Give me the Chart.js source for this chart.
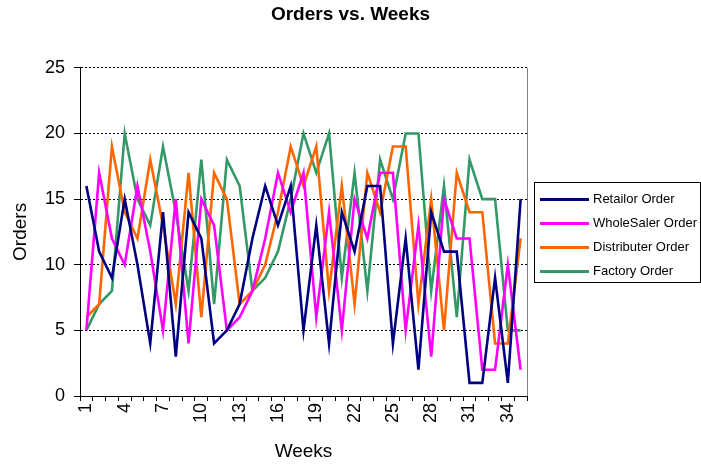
<!DOCTYPE html>
<html>
<head>
<meta charset="utf-8">
<script src="https://cdn.jsdelivr.net/npm/chart.js@4"></script>
<style>
  body { margin: 0; background: #fff; }
  #wrap { position: relative; width: 701px; height: 467px; }
  #legend {
    position: absolute; left: 534px; top: 182px; width: 165px; height: 99px;
    border: 1px solid #000; font-family: "Liberation Sans", Arial, sans-serif;
    font-size: 13px; color: #000; box-sizing: content-box;
  }
  .item { position: absolute; left: 0; height: 16px; }
  .swatch { position: absolute; left: 5px; top: 7px; width: 49px; height: 3px; }
  .label { position: absolute; left: 58px; top: 0; white-space: nowrap; line-height: 16px; }
</style>
</head>
<body>
<div id="wrap">
  <canvas id="chart" width="701" height="467"></canvas>
  <div id="legend"></div>
</div>
<script>
// weeks 1..35
const weeks = [];
for (let i = 1; i <= 35; i++) weeks.push(String(i));

const retailorOrder = [16,11,9,15,10,4,14,3,14,12,4,5,7,12,16,13,16,5,13,4,14,11,16,16,4,12,2,14,11,11,1,1,9,1,15];
const wholesalerOrder = [5,17,12,10,16,11,5,15,4,15,13,5,6,8,12,17,14,17,6,14,5,15,12,17,17,5,13,3,15,12,12,2,2,10,2];
const distributerOrder = [6,7,19,14,12,18,13,7,17,6,17,15,7,8,10,14,19,16,19,8,16,7,17,14,19,19,7,15,5,17,14,14,4,4,12];
const factoryOrder = [5,7,8,20,15,13,19,14,8,18,7,18,16,8,9,11,15,20,17,20,9,17,8,18,15,20,20,8,16,6,18,15,15,5,5];

const seriesNames = ['Retailor Order', 'WholeSaler Order', 'Distributer Order', 'Factory Order'];
const seriesColors = ['#000080', '#ff00ff', '#ff6600', '#339966'];
const yTicks = [0, 5, 10, 15, 20, 25];

const font = '"Liberation Sans", Arial, sans-serif';

// grey right edge of the plot area
const plotEdge = {
  id: 'plotEdge',
  afterDraw(chart) {
    const a = chart.chartArea, ctx = chart.ctx;
    ctx.save();
    ctx.strokeStyle = '#808080';
    ctx.lineWidth = 1;
    ctx.beginPath();
    ctx.moveTo(Math.round(a.right) + 0.5, a.top);
    ctx.lineTo(Math.round(a.right) + 0.5, a.bottom);
    ctx.stroke();
    ctx.restore();
  }
};

const allData = [retailorOrder, wholesalerOrder, distributerOrder, factoryOrder];

new Chart(document.getElementById('chart'), {
  type: 'line',
  data: {
    labels: weeks,
    datasets: allData.map((d, i) => ({
      label: seriesNames[i],
      data: d,
      borderColor: seriesColors[i],
      backgroundColor: seriesColors[i],
      borderWidth: 2.6,
      pointRadius: 0,
      tension: 0,
      fill: false
    }))
  },
  options: {
    responsive: false,
    animation: false,
    layout: { padding: 0 },
    plugins: {
      legend: { display: false },
      tooltip: { enabled: false },
      title: {
        display: true,
        text: 'Orders vs. Weeks',
        color: '#000',
        font: { family: font, size: 19, weight: 'bold' },
        padding: { top: 3, bottom: 42 }
      }
    },
    scales: {
      x: {
        type: 'category',
        offset: true,
        afterFit(scale) { scale.height = 71; },
        grid: { drawOnChartArea: false, offset: true, color: '#000', tickLength: 5, tickColor: '#000' },
        border: { color: '#000', width: 1 },
        ticks: {
          autoSkip: false,
          minRotation: 90,
          maxRotation: 90,
          padding: 2,
          color: '#000',
          font: { family: font, size: 18 },
          callback(v, i) { return i % 3 === 0 ? weeks[i] : ''; }
        },
        title: {
          display: true, text: 'Weeks', color: '#000',
          font: { family: font, size: 19 },
          padding: { top: 0, bottom: 4 }
        }
      },
      y: {
        min: 0,
        max: 25,
        afterFit(scale) { scale.width = 80; },
        afterBuildTicks(scale) { scale.ticks = yTicks.map(v => ({ value: v })); },
        grid: { color: '#000', lineWidth: 1, tickLength: 6, tickColor: '#000', tickBorderDash: [] },
        border: { color: '#000', width: 1, dash: [2, 2] },
        ticks: {
          padding: 9,
          color: '#000',
          font: { family: font, size: 18 }
        },
        title: {
          display: true, text: 'Orders', color: '#000',
          font: { family: font, size: 19 },
          padding: { top: 9, bottom: 0 }
        }
      },
      // empty box on the right that keeps room for the legend
      spacer: {
        position: 'right',
        min: 0,
        max: 25,
        afterFit(scale) { scale.width = 174; },
        grid: { display: false },
        border: { display: false },
        ticks: { display: false }
      }
    }
  },
  plugins: [plotEdge]
});

// legend box
const legend = document.getElementById('legend');
seriesNames.forEach((name, i) => {
  const item = document.createElement('div');
  item.className = 'item';
  item.style.top = (8 + i * 24) + 'px';
  item.style.width = '100%';
  item.innerHTML = '<div class="swatch" style="background:' + seriesColors[i] + '"></div><div class="label">' + name + '</div>';
  legend.appendChild(item);
});
</script>
</body>
</html>
